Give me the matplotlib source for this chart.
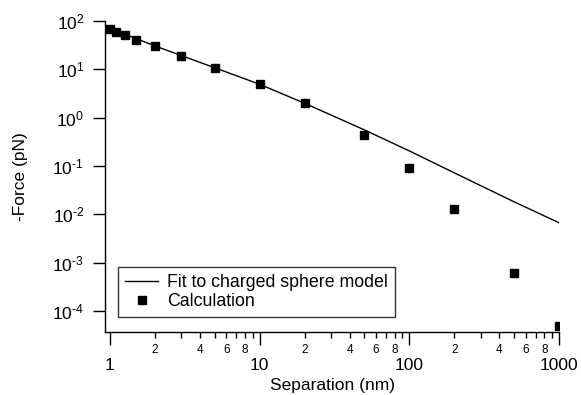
import numpy as np
import matplotlib
matplotlib.use("Agg")
import matplotlib.pyplot as plt
from matplotlib.ticker import LogLocator, FuncFormatter, NullLocator, FixedLocator

# ---- data ----
calc_sep = [1, 1.1, 1.25, 1.5, 2, 3, 5, 10, 20, 50, 100, 200, 500, 1000]
calc_force = [68, 60, 52, 41, 30.4, 19.1, 10.8, 4.9, 1.98, 0.43, 0.091, 0.0131, 6.2e-4, 4.8e-5]

fit_sep = [1, 2, 3, 5, 10, 20, 50, 100, 200, 500, 1000]
fit_force = [70, 30.5, 19.2, 10.8, 4.9, 1.98, 0.56, 0.205, 0.072, 0.0182, 0.0067]

y_tick_exps = [2, 1, 0, -1, -2, -3, -4]
x_major_ticks = [1, 10, 100, 1000]
x_minor_labelled = [2, 4, 6, 8]

legend_labels = ["Fit to charged sphere model", "Calculation"]
x_label = "Separation (nm)"
y_label = "-Force (pN)"

plt.rcParams['font.family'] = ['Liberation Sans', 'DejaVu Sans']
plt.rcParams['mathtext.fontset'] = 'custom'
plt.rcParams['mathtext.rm'] = 'Liberation Sans'
plt.rcParams['mathtext.it'] = 'Liberation Sans'

FS = 12.5
W, H = 581, 395
fig = plt.figure(figsize=(W / 100, H / 100), dpi=100)
ax = fig.add_axes([105 / W, 1 - 332 / H, (559 - 105) / W, (332 - 21) / H])

ax.plot(fit_sep, fit_force, color='black', lw=1.0, label=legend_labels[0])
ax.plot(calc_sep, calc_force, ls='none', marker='s', ms=5.2, color='black',
        label=legend_labels[1])

ax.set_xscale('log')
ax.set_yscale('log')
ax.set_xlim(0.926, 1000)
ax.set_ylim(10 ** -4.435, 100)

for s in ['top', 'right']:
    ax.spines[s].set_visible(False)
for s in ['left', 'bottom']:
    ax.spines[s].set_linewidth(1.0)

ax.xaxis.set_major_locator(FixedLocator(x_major_ticks))
ax.xaxis.set_minor_locator(LogLocator(base=10, subs=np.arange(2, 10)))
ax.xaxis.set_major_formatter(FuncFormatter(lambda v, p: f"{v:g}"))


def minor_fmt(v, p):
    m = v / 10 ** np.floor(np.log10(v) + 1e-9)
    mi = int(round(m))
    return str(mi) if mi in x_minor_labelled else ""


ax.xaxis.set_minor_formatter(FuncFormatter(minor_fmt))


def y_fmt(v, p):
    e = int(round(np.log10(v)))
    es = str(e) if e >= 0 else r'\text{-}' + str(-e)
    return r'$\mathregular{10^{%s}}$' % es


ax.yaxis.set_major_locator(FixedLocator([10.0 ** e for e in y_tick_exps]))
ax.yaxis.set_minor_locator(NullLocator())
ax.yaxis.set_major_formatter(FuncFormatter(y_fmt))

ax.tick_params(axis='both', which='major', direction='out', length=9, width=1.0,
               labelsize=FS, color='black')
ax.tick_params(axis='x', which='major', pad=10)
ax.tick_params(axis='y', which='major', pad=6)
ax.tick_params(axis='x', which='minor', direction='out', length=4.3, width=1.0,
               labelsize=8.5, pad=4)

ax.set_xlabel(x_label, fontsize=FS)
ax.set_ylabel(y_label, fontsize=FS)
ax.xaxis.set_label_coords(0.5, -0.148)
ax.yaxis.set_label_coords(-0.17, 0.5)

leg = ax.legend(loc='lower left', bbox_to_anchor=(0.0286, 0.048), borderaxespad=0,
                frameon=True, fancybox=False, fontsize=12.8, handlelength=1.87,
                handletextpad=0.5, borderpad=0.4, labelspacing=0.1)
leg.get_frame().set_edgecolor('black')
leg.get_frame().set_linewidth(1.0)

fig.savefig('out.png', dpi=100)
